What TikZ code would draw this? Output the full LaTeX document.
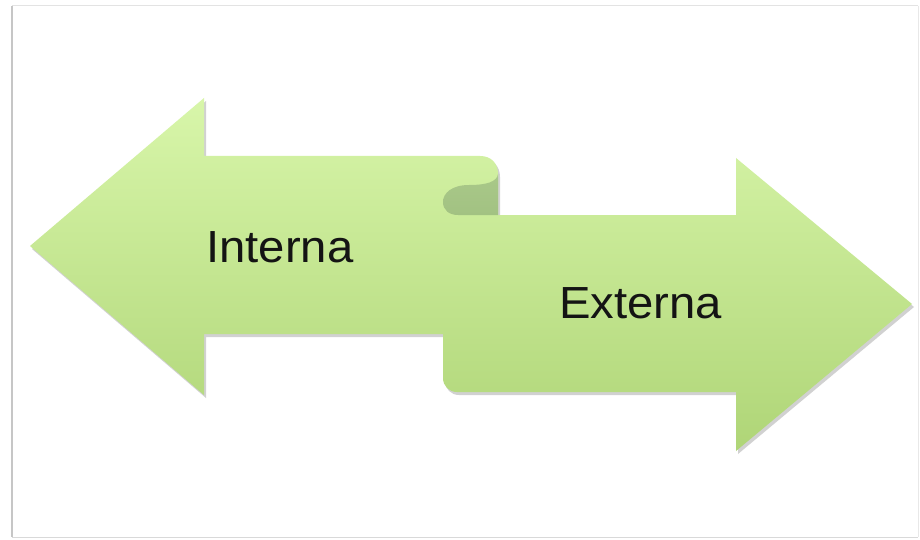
\documentclass[tikz,border=0pt]{standalone}
\usepackage{fontspec}
\newfontfamily\arialf{Liberation Sans}
\usetikzlibrary{shadows}
\definecolor{gtop}{HTML}{D8F6AA}
\definecolor{gbot}{HTML}{AFD577}
\definecolor{curl}{HTML}{A9C889}
\definecolor{curlb}{HTML}{A2C282}
\tikzset{
  arrowbody/.style={top color=gtop, bottom color=gbot, draw=none,
    drop shadow={shadow xshift=2pt, shadow yshift=-3pt, opacity=0.18, fill=black}},
  curlpart/.style={top color=curl, bottom color=curlb, draw=none},
  label/.style={font=\arialf\fontsize{45}{54}\selectfont, text=black!92, inner sep=0pt, xscale=1.05},
  frameline/.style={line width=1pt}
}
\begin{document}
\begin{tikzpicture}[x=1pt,y=-1pt]
\useasboundingbox (0,0) rectangle (920,540);
\fill[white] (0,0) rectangle (920,540);
% frame
\draw[frameline, gray!22] (12,6) -- (918,6);
\draw[frameline, gray!30] (12,537) -- (918,537);
\draw[line width=2pt, gray!45] (12,6) -- (12,537);
\draw[frameline, gray!18] (918,6) -- (918,537);
% both arrows as one shape
\path[arrowbody]
  (30,246) -- (204,98) -- (204,156) -- (480,156)
  .. controls (491,156) and (498,163) .. (498,174)
  -- (498,215) -- (443,215) -- (443,334) -- (204,334) -- (204,395) -- cycle
  (443,215) -- (736,215) -- (736,158) -- (912,304) -- (736,451) -- (736,392)
  -- (457,392) .. controls (449,392) and (443,386) .. (443,378) -- cycle;
% curl
\path[curlpart]
  (498,174) .. controls (497,182) and (486,185) .. (469,185)
  .. controls (452,185) and (443,193) .. (443,202)
  .. controls (443,210) and (449,215) .. (458,215) -- (498,215) -- cycle;
% texts
\node[label, anchor=base west] (int) at (206,262) {Interna};
\node[label, anchor=base west] (ext) at (559,318) {Externa};
\end{tikzpicture}
\end{document}
